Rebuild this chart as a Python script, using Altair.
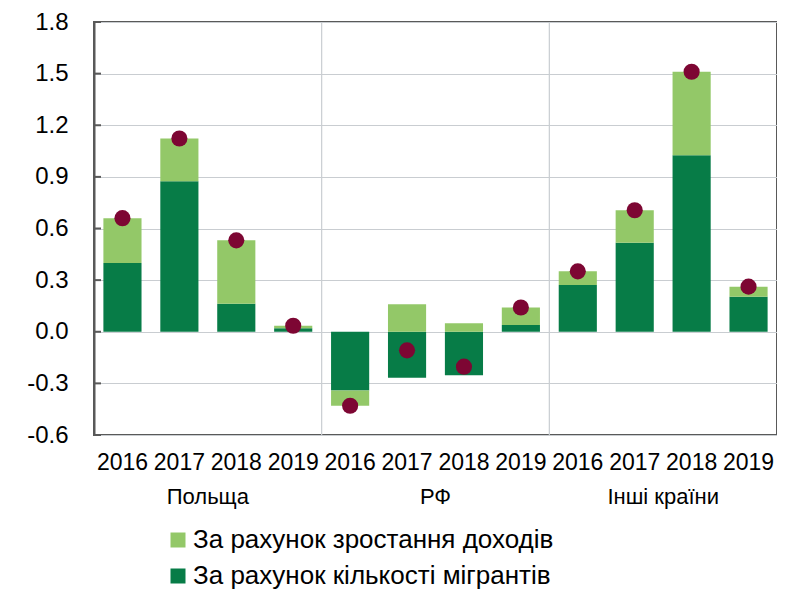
import altair as alt
import pandas as pd

# ---- data ----
groups = ["Польща"] * 4 + ["РФ"] * 4 + ["Інші країни"] * 4
years = ["2016", "2017", "2018", "2019"] * 3
migrants = [0.40, 0.875, 0.162, 0.021, -0.342, -0.268, -0.253, 0.039, 0.272, 0.517, 1.025, 0.203]
income = [0.26, 0.248, 0.369, 0.014, -0.088, 0.16, 0.05, 0.102, 0.079, 0.189, 0.486, 0.059]
totals = [0.66, 1.123, 0.531, 0.035, -0.43, -0.108, -0.203, 0.141, 0.351, 0.706, 1.511, 0.262]
group_names = ["Польща", "РФ", "Інші країни"]
series_names = ["За рахунок зростання доходів", "За рахунок кількості мігрантів"]
y_ticks = [-0.6, -0.3, 0.0, 0.3, 0.6, 0.9, 1.2, 1.5, 1.8]

LIGHT = "#93C868"
DARK = "#077C47"
DOT = "#7D0633"
GRID = "#C9CDD1"
FRAME = "#595959"
FONT = "Liberation Sans"

cats = [f"{g}|{y}" for g, y in zip(groups, years)]
rows = []
for c, m, i in zip(cats, migrants, income):
    rows.append({"cat": c, "series": series_names[1], "value": m, "ord": 0})
    rows.append({"cat": c, "series": series_names[0], "value": i, "ord": 1})
bars_df = pd.DataFrame(rows)
tot_df = pd.DataFrame({"cat": cats, "total": totals})
sep_df = pd.DataFrame({"cat": [f"{g}|2016" for g in group_names[1:]]})
lab_df = pd.DataFrame({"cat": [f"{g}|2017" for g in group_names], "label": group_names})
tick_df = pd.DataFrame({"v": y_ticks})

xscale = alt.Scale(domain=cats, paddingInner=0, paddingOuter=0)
yscale = alt.Scale(domain=[-0.6, 1.8], nice=False, zero=False)

x_axis = alt.Axis(
    title=None, labelExpr="slice(datum.value, -4)", labelAngle=0,
    labelFont=FONT, labelFontSize=23, labelColor="#000", labelPadding=16,
    labelBaseline="top", domain=False, ticks=False, grid=False,
    labelOverlap=False, labelLimit=0,
)
y_axis = alt.Axis(
    title=None, values=y_ticks,
    labelExpr="(datum.value < 0 ? '-' : '') + format(abs(datum.value), '.1f')",
    labelFont=FONT, labelFontSize=24, labelColor="#000", labelPadding=26,
    ticks=False, domain=True, domainColor=FRAME, domainWidth=2,
    grid=True, gridColor=GRID, gridWidth=1.2,
)

seps = alt.Chart(sep_df).mark_rule(color=GRID, strokeWidth=1.2).encode(
    x=alt.X("cat:N", scale=xscale, bandPosition=0, axis=x_axis)
)

bars = alt.Chart(bars_df).mark_bar(width=alt.RelativeBandSize(0.67)).encode(
    x=alt.X("cat:N", scale=xscale, axis=x_axis, sort=cats),
    y=alt.Y("value:Q", scale=yscale, axis=y_axis, stack="zero"),
    color=alt.Color(
        "series:N",
        scale=alt.Scale(domain=series_names, range=[LIGHT, DARK]),
        legend=alt.Legend(
            title=None, orient="none", legendX=71, legendY=505,
            direction="vertical", symbolType="square", symbolSize=225,
            symbolStrokeWidth=0, labelFont=FONT, labelFontSize=26,
            labelColor="#000", rowPadding=10, labelOffset=2, labelLimit=0,
        ),
    ),
    order=alt.Order("ord:Q"),
)

dots = alt.Chart(tot_df).mark_circle(size=260, color=DOT, opacity=1).encode(
    x=alt.X("cat:N", scale=xscale),
    y=alt.Y("total:Q", scale=yscale),
)

ticks = alt.Chart(tick_df).mark_rule(color=FRAME, strokeWidth=2).encode(
    y=alt.Y("v:Q", scale=yscale),
    x=alt.value(0), x2=alt.value(7),
)

labels = alt.Chart(lab_df).mark_text(
    font=FONT, fontSize=22, color="#000", baseline="middle", align="center"
).encode(
    x=alt.X("cat:N", scale=xscale, bandPosition=1),
    y=alt.value(475),
    text="label:N",
)

chart = alt.layer(seps, bars, dots, ticks, labels).properties(
    width=683, height=413,
    autosize=alt.AutoSizeParams(type="none"),
    padding={"left": 86, "top": 14, "right": 0, "bottom": 170},
).configure_view(stroke=FRAME, strokeWidth=2)

chart.save("out.html", embed_options={"renderer": "svg", "actions": False})
